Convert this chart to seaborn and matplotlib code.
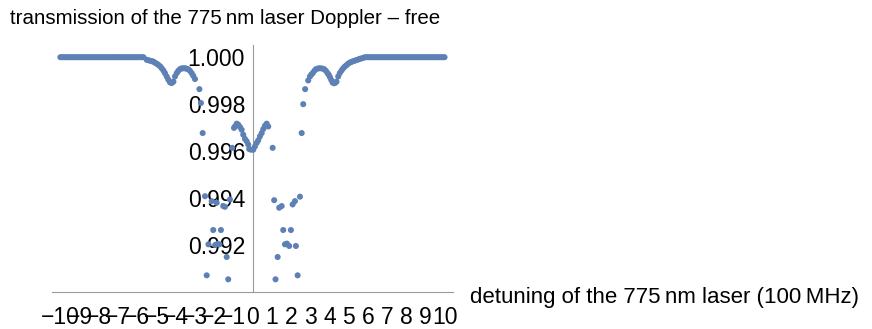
import numpy as np
import pandas as pd
import matplotlib
matplotlib.use("Agg")
import matplotlib.pyplot as plt
import seaborn as sns

# ---- data ----
flat_left_x = np.arange(-10.0, -5.59, 0.09)
flat_left_y = [1.0] * len(flat_left_x)

left_x = [-5.51, -5.42, -5.33, -5.24, -5.16, -5.07, -4.98, -4.90, -4.81, -4.73,
          -4.64, -4.56, -4.47, -4.39, -4.30, -4.21, -4.12, -4.04, -3.95, -3.87,
          -3.78, -3.70, -3.61, -3.52, -3.44, -3.35, -3.26, -3.17, -3.09, -3.00,
          -2.77, -2.69, -2.60, -2.48, -2.39, -2.30, -2.13, -2.05, -1.95, -1.87,
          -1.83, -1.73, -1.65, -1.53, -1.44, -1.35, -1.27, -1.18, -1.06, -0.97,
          -0.92, -0.83, -0.75, -0.66, -0.57, -0.49, -0.40, -0.31, -0.23, -0.18,
          -0.09]
left_y = [0.99989, 0.99987, 0.99985, 0.99983, 0.99981, 0.99976, 0.99972, 0.99967, 0.99961, 0.99953,
          0.99943, 0.99932, 0.99918, 0.99905, 0.99893, 0.99890, 0.99896, 0.99918, 0.99932, 0.99942,
          0.99949, 0.99952, 0.99953, 0.99953, 0.99951, 0.99949, 0.99942, 0.99932, 0.99921, 0.99907,
          0.99864, 0.99805, 0.99677, 0.99408, 0.99071, 0.99203, 0.99387, 0.99264, 0.99200, 0.99380,
          0.99205, 0.99203, 0.99264, 0.99366, 0.99363, 0.99149, 0.99054, 0.99394, 0.99614, 0.99699,
          0.99705, 0.99717, 0.99713, 0.99703, 0.99691, 0.99670, 0.99652, 0.99642, 0.99628, 0.99609,
          0.99606]

right_x = [0.03, 0.12, 0.21, 0.29, 0.38, 0.47, 0.55, 0.64, 0.73, 0.81,
           1.04, 1.12, 1.19, 1.30, 1.38, 1.51, 1.59, 1.68, 1.78, 1.90,
           1.99, 2.08, 2.20, 2.25, 2.34, 2.46, 2.55, 2.63, 2.73, 2.89,
           2.98, 3.05, 3.12, 3.21, 3.29, 3.40, 3.50, 3.61, 3.72, 3.81,
           3.90, 3.96, 4.02, 4.09, 4.16, 4.24, 4.31, 4.36, 4.45, 4.53,
           4.62, 4.70, 4.79, 4.88, 4.96, 5.05, 5.14, 5.22, 5.31, 5.40,
           5.48, 5.57, 5.66, 5.75]
right_y = [0.99606, 0.99620, 0.99635, 0.99646, 0.99663, 0.99677, 0.99694, 0.99708, 0.99717, 0.99705,
           0.99614, 0.99391, 0.99054, 0.99149, 0.99359, 0.99366, 0.99264, 0.99203, 0.99206, 0.99196,
           0.99264, 0.99373, 0.99387, 0.99196, 0.99071, 0.99406, 0.99677, 0.99800, 0.99864, 0.99901,
           0.99918, 0.99926, 0.99932, 0.99942, 0.99949, 0.99952, 0.99953, 0.99952, 0.99949, 0.99942,
           0.99932, 0.99925, 0.99915, 0.99903, 0.99892, 0.99889, 0.99892, 0.99896, 0.99918, 0.99932,
           0.99943, 0.99952, 0.99960, 0.99966, 0.99972, 0.99977, 0.99980, 0.99983, 0.99985, 0.99988,
           0.99990, 0.99993, 0.99995, 0.99997]

flat_right_x = np.arange(5.84, 10.01, 0.09)
flat_right_y = [1.0] * len(flat_right_x)

x_ticks = list(range(-10, 11))
x_ticklabels = [("\u2212" + str(abs(v))) if v < 0 else str(v) for v in x_ticks]
y_major = [0.992, 0.994, 0.996, 0.998, 1.000]
y_ticklabels = ["0.992", "0.994", "0.996", "0.998", "1.000"]
y_minor = [0.9905, 0.991, 0.9915, 0.9925, 0.993, 0.9935, 0.9945, 0.995, 0.9955,
           0.9965, 0.997, 0.9975, 0.9985, 0.999, 0.9995]

title = "transmission of the 775\u2009nm laser Doppler \u2013 free"
xlabel = "detuning of the 775\u2009nm laser (100\u2009MHz)"

df = pd.DataFrame({
    "x": np.concatenate([flat_left_x, left_x, right_x, flat_right_x]),
    "y": np.concatenate([flat_left_y, left_y, right_y, flat_right_y]),
})

sns.set_style("white")
plt.rcParams["font.family"] = ["Liberation Sans", "DejaVu Sans"]
plt.rcParams["text.color"] = "black"

fig = plt.figure(figsize=(8.72, 3.29), dpi=100)
ax = fig.add_axes([52.3 / 872, 1 - 292 / 329, (453 - 52.3) / 872, (292 - 45) / 329])

sns.scatterplot(data=df, x="x", y="y", ax=ax, color="#5E81B5", s=19,
                linewidth=0, edgecolor="none", zorder=3, clip_on=False)

ax.set_xlim(-10.42, 10.42)
ax.set_ylim(0.9900, 1.00052)

axis_col = "#9a9a9a"
for s in ["top", "right"]:
    ax.spines[s].set_visible(False)
ax.spines["left"].set_position(("data", 0))
for s in ["left", "bottom"]:
    ax.spines[s].set_color(axis_col)
    ax.spines[s].set_linewidth(0.8)

ax.set_xticks(x_ticks)
ax.set_xticklabels(x_ticklabels)
ax.set_yticks(y_major)
ax.set_yticklabels(y_ticklabels)
ax.set_yticks(y_minor, minor=True)

ax.tick_params(axis="x", which="major", direction="in", length=3.2, width=0.8,
               color=axis_col, labelsize=16.5, pad=10, labelcolor="black")
ax.tick_params(axis="y", which="major", direction="in", length=3.5, width=0.8,
               color=axis_col, labelsize=16.5, pad=5.5, labelcolor="black")
ax.tick_params(axis="y", which="minor", direction="in", length=2.0, width=0.8,
               color=axis_col)
ax.set_xlabel("")
ax.set_ylabel("")
ax.grid(False)

fig.text(10 / 872, 1 - 19 / 329, title, ha="left", va="center", fontsize=14.8,
         color="black")
fig.text(470 / 872, 1 - 297 / 329, xlabel, ha="left", va="center", fontsize=16,
         color="black")

fig.savefig("out.png", dpi=100)
